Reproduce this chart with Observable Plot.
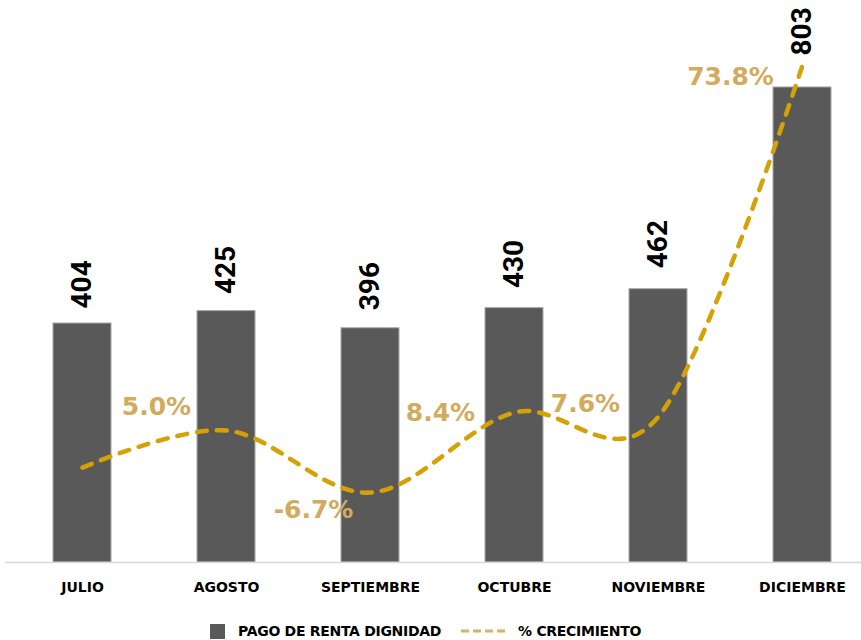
<!DOCTYPE html>
<html><head><meta charset="utf-8">
<script src="https://cdn.jsdelivr.net/npm/d3@7"></script>
<script src="https://cdn.jsdelivr.net/npm/@observablehq/plot@0.6"></script>
<style>
body{margin:0;background:#fff;font-family:"DejaVu Sans",sans-serif}
#legend{display:flex;align-items:center;height:28px;margin-left:210px;font-family:"DejaVu Sans";font-weight:bold;font-size:14px;letter-spacing:-0.3px;color:#000}
#legend .sq{width:15px;height:15px;background:#595959;margin-right:13px}
#legend .ln{margin:0 12px 0 20px}
</style>
</head><body><div id="chart"></div>
<div id="legend"><div class="sq"></div><span>PAGO DE RENTA DIGNIDAD</span><svg class="ln" width="45" height="6"><line x1="0" y1="3" x2="45" y2="3" stroke="#D6B463" stroke-width="3" stroke-dasharray="8,4"/></svg><span>% CRECIMIENTO</span></div>
<script>
const months = ["JULIO","AGOSTO","SEPTIEMBRE","OCTUBRE","NOVIEMBRE","DICIEMBRE"];
const payments = [404,425,396,430,462,803];
const growth = [-2.0,5.0,-6.7,8.4,7.6,73.8];
const growthLabels = [null,"5.0%","-6.7%","8.4%","7.6%","73.8%"];

const rows = months.map((m,i)=>({month:m, value:payments[i], pct:growth[i], label:growthLabels[i]}));

// secondary axis mapping (percent -> primary units)
const pctBase = 178.3, pctScale = 8.97;
const pctToY = p => pctBase + pctScale * p;

// label layout nudges (screen px)
const pctLabelNudge = {AGOSTO:[-70,-23], SEPTIEMBRE:[-57,17], OCTUBRE:[-74,1], NOVIEMBRE:[-73,-13], DICIEMBRE:[-72,12]};
const valueLabelGap = {JULIO:15, AGOSTO:17, SEPTIEMBRE:18, OCTUBRE:20, NOVIEMBRE:21, DICIEMBRE:32};

const marks = [
  Plot.barY(rows, {x:"month", y:"value", fill:"#595959", stroke:"#a8a8a8", strokeWidth:1}),
  Plot.ruleY([0], {stroke:"#d9d9d9", strokeWidth:1.5}),
  Plot.line(rows, {x:"month", y:d=>pctToY(d.pct), curve:"cardinal", stroke:"#D4A106", strokeWidth:4.5, strokeDasharray:"10,10", strokeLinecap:"round"}),
  Plot.axisX({tickSize:0, tickPadding:20, fontSize:14, fontWeight:"bold", fill:"#000", label:null})
];
rows.forEach(r => {
  marks.push(Plot.text([r], {x:"month", y:"value", text:d=>String(d.value), rotate:-90, textAnchor:"start", dy:-valueLabelGap[r.month], fontSize:28, fontWeight:"bold", fontFamily:"Roboto", fill:"#000"}));
  if (r.label) {
    const [dx, dy] = pctLabelNudge[r.month];
    marks.push(Plot.text([r], {x:"month", y:d=>pctToY(d.pct), text:"label", dx, dy, fontSize:25, fontWeight:"bold", fontFamily:"DejaVu Sans", fill:"#D2AB5D"}));
  }
});

const chart = Plot.plot({
  width: 861,
  height: 617,
  marginTop: 0,
  marginBottom: 55,
  marginLeft: 5,
  marginRight: 0,
  style: {fontFamily:"DejaVu Sans", background:"#fff"},
  x: {domain: months, range:[9,875], paddingInner:0.6, paddingOuter:0.3, axis:null},
  y: {domain:[0,950], axis:null},
  marks
});
document.getElementById("chart").appendChild(chart);
</script>
</body></html>
